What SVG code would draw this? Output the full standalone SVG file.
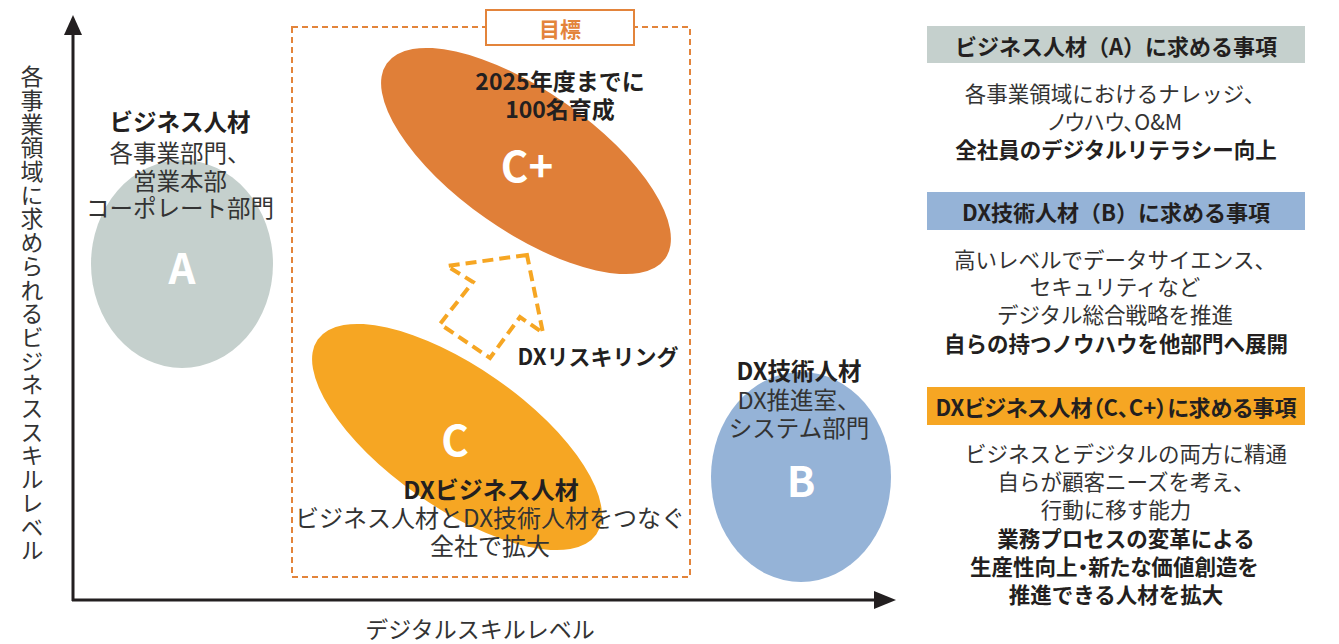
<svg xmlns="http://www.w3.org/2000/svg" width="1339" height="644" viewBox="0 0 1339 644">
<style>
text{font-family:"Noto Sans CJK JP","Noto Sans",sans-serif;text-anchor:middle;dominant-baseline:central}
.r{font-size:21.5px;fill:#333;font-weight:400}
.b{font-size:21.5px;fill:#231f20;font-weight:700}
.l{font-size:23.5px}
.c{font-size:24px}
.big{font-size:42px;fill:#fff;font-weight:700}
.ax{stroke:#231f20;stroke-width:3;fill:none}
.p{font-feature-settings:"palt"}
</style>
<rect width="1339" height="644" fill="#fff"/>
<g id="target-frame">
<rect x="292" y="27" width="398" height="550" fill="none" stroke="#E3843B" stroke-width="2" stroke-dasharray="6 4"/>
<rect x="486" y="10" width="148" height="35" fill="#fff" stroke="#E3843B" stroke-width="2"/>
<text x="560" y="28" style="font-size:21px;font-weight:700;fill:#E3843B">目標</text>
</g>
<g id="node-A">
<ellipse cx="182" cy="264" rx="91" ry="104" fill="#C5D0CD"/>
<text class="big" x="182" y="265">A</text>
<text class="b l" x="180" y="121">ビジネス人材</text>
<text class="r l" x="180" y="152">各事業部門、</text>
<text class="r l" x="180" y="180">営業本部</text>
<text class="r l" x="180" y="207">コーポレート部門</text>
</g>
<g id="node-Cplus">
<ellipse cx="526" cy="161" rx="170" ry="70" fill="#E07F38" transform="rotate(35 526 161)"/>
<text class="b" x="560" y="80" style="font-size:23px">2025年度までに</text>
<text class="b" x="560" y="108" style="font-size:23px">100名育成</text>
<text class="big" x="527" y="163">C+</text>
</g>
<g id="node-C">
<ellipse cx="457" cy="437" rx="170" ry="70" fill="#F6A623" transform="rotate(35 457 437)"/>
<text class="big" x="455" y="437">C</text>
<text class="b c" x="491" y="488">DXビジネス人材</text>
<text class="r c" x="490" y="516">ビジネス人材とDX技術人材をつなぐ</text>
<text class="r c" x="490" y="544">全社で拡大</text>
</g>
<g id="node-B">
<ellipse cx="801" cy="477" rx="90" ry="105" fill="#95B3D7"/>
<text class="big" x="801" y="478">B</text>
<text class="b l" x="799" y="370">DX技術人材</text>
<text class="r l" x="799" y="399">DX推進室、</text>
<text class="r l" x="799" y="427">システム部門</text>
</g>
<g id="connectors">
<line class="ax" x1="73" y1="32" x2="73" y2="601"/>
<polygon points="73,15 64,35 82,35" fill="#231f20"/>
<line class="ax" x1="72" y1="600" x2="877" y2="600"/>
<polygon points="896,600 874,591 874,609" fill="#231f20"/>
<polygon points="527,255 447,266 473,282 440,324 490,358 520,317 543,333" fill="none" stroke="#F6A623" stroke-width="4" stroke-dasharray="11 6" stroke-linejoin="miter"/>
<text class="b" x="598" y="355" style="font-size:22px">DXリスキリング</text>
</g>
<g id="axis-labels">
<text class="r" x="32" y="65" style="font-size:23px;writing-mode:vertical-rl;text-anchor:start;dominant-baseline:auto;letter-spacing:0.7px">各事業領域に求められるビジネススキルレベル</text>
<text class="r" x="480" y="628" style="font-size:23px">デジタルスキルレベル</text>
</g>
<g id="panel-A">
<rect x="927" y="26" width="378" height="37" fill="#C5D0CD"/>
<text class="b" x="1116" y="45" style="font-size:22px">ビジネス人材（A）に求める事項</text>
<text class="r" x="1115" y="92">各事業領域におけるナレッジ、</text>
<text class="r p" x="1115" y="120">ノウハウ、O&amp;M</text>
<text class="b" x="1116" y="148">全社員のデジタルリテラシー向上</text>
</g>
<g id="panel-B">
<rect x="927" y="192" width="378" height="38" fill="#95B3D7"/>
<text class="b" x="1116" y="211" style="font-size:22px">DX技術人材（B）に求める事項</text>
<text class="r" x="1115" y="258">高いレベルでデータサイエンス、</text>
<text class="r" x="1115" y="285">セキュリティなど</text>
<text class="r" x="1115" y="313">デジタル総合戦略を推進</text>
<text class="b" x="1116" y="342">自らの持つノウハウを他部門へ展開</text>
</g>
<g id="panel-C">
<rect x="927" y="387" width="378" height="38" fill="#F6A623"/>
<text class="b p" x="1116" y="406" style="font-size:22px">DXビジネス人材（C、C+）に求める事項</text>
<text class="r" x="1126" y="452">ビジネスとデジタルの両方に精通</text>
<text class="r" x="1126" y="480">自らが顧客ニーズを考え、</text>
<text class="r" x="1116" y="508">行動に移す能力</text>
<text class="b" x="1126" y="537">業務プロセスの変革による</text>
<text class="b p" x="1114" y="565">生産性向上・新たな価値創造を</text>
<text class="b" x="1116" y="593">推進できる人材を拡大</text>
</g>
</svg>
